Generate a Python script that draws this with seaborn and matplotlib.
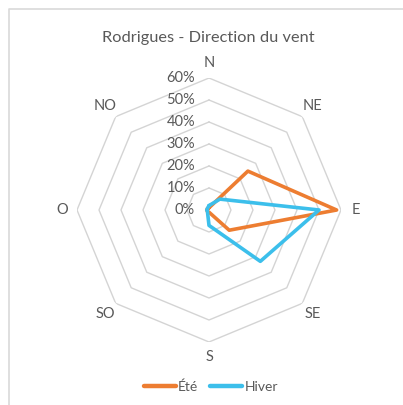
import numpy as np
import pandas as pd
import matplotlib
matplotlib.use("Agg")
import matplotlib.pyplot as plt
import matplotlib.transforms as mtransforms
from matplotlib.lines import Line2D
import seaborn as sns

# ---- data ----
directions = ["N", "NE", "E", "SE", "S", "SO", "O", "NO"]
ete = [1, 25, 58, 13, 1, 1, 1, 1]
hiver = [2, 7, 50, 33, 7, 1, 1, 1]
series_names = ["Été", "Hiver"]
r_ticks = [0, 10, 20, 30, 40, 50, 60]
r_tick_labels = ["0%", "10%", "20%", "30%", "40%", "50%", "60%"]
title = "Rodrigues - Direction du vent"

colors = {"Été": "#ED7D31", "Hiver": "#3CBFEB"}

sns.set_theme(style="white")
plt.rcParams["font.family"] = ["Lato", "DejaVu Sans"]

W, H = 403, 405
fig = plt.figure(figsize=(W / 100, H / 100), dpi=100)
fig.patch.set_facecolor("white")

cx, cy, R = 209, 210, 132
ax = fig.add_axes([(cx - R) / W, (H - cy - R) / H, 2 * R / W, 2 * R / H], projection="polar")
ax.set_theta_zero_location("N")
ax.set_theta_direction(-1)
ax.set_ylim(0, r_ticks[-1])
ax.grid(False)
ax.spines["polar"].set_visible(False)
ax.set_xticks([])
ax.set_yticks([])
ax.set_facecolor("none")

n = len(directions)
angles = np.arange(n) * 2 * np.pi / n
closed_angles = np.append(angles, angles[0])

# octagonal grid rings
for r in r_ticks[1:]:
    ax.plot(closed_angles, [r] * (n + 1), color="#d4d4d4", lw=1.0, zorder=1)

# data series via seaborn
rows = []
for name, vals in zip(series_names, [ete, hiver]):
    vv = list(vals) + [vals[0]]
    for i, (a, v) in enumerate(zip(closed_angles, vv)):
        rows.append({"angle": a, "value": v, "serie": name, "order": i})
df = pd.DataFrame(rows)
sns.lineplot(data=df, x="angle", y="value", hue="serie", palette=colors,
             sort=False, estimator=None, units="serie", lw=2.6, ax=ax,
             legend=False, zorder=3)
ax.set_xlabel("")
ax.set_ylabel("")
ax.set_ylim(0, r_ticks[-1])

# radial tick labels
off = mtransforms.offset_copy(ax.transData, fig=fig, x=-14, y=0, units="dots")
for r, lab in zip(r_ticks, r_tick_labels):
    ax.text(0, r, lab, transform=off, ha="right", va="center",
            fontsize=10.5, color="#595959", clip_on=False)

# category labels
for a, lab in zip(angles, directions):
    ax.text(a, r_ticks[-1] * 1.11, lab, ha="center", va="center",
            fontsize=10.5, color="#595959", clip_on=False)

# title
fig.text(208.5 / W, 1 - 38 / H, title, ha="center", va="center",
         fontsize=11.8, color="#595959")

# legend
handles = [Line2D([0], [0], color=colors[s], lw=3.2, solid_capstyle="round") for s in series_names]
leg = fig.legend(handles, series_names, loc="center", bbox_to_anchor=(211 / W, 1 - 387 / H),
                 ncol=2, frameon=False, fontsize=10, handlelength=2.3,
                 handletextpad=0.15, columnspacing=0.85)
for t in leg.get_texts():
    t.set_color("#595959")

# chart frame (top and left edges visible)
fig.add_artist(Line2D([9 / W, 9 / W, 1.0], [0.0, 1 - 9 / H, 1 - 9 / H],
                      transform=fig.transFigure, color="#d9d9d9", lw=1.2))

fig.savefig("out.png", dpi=100, facecolor="white")
